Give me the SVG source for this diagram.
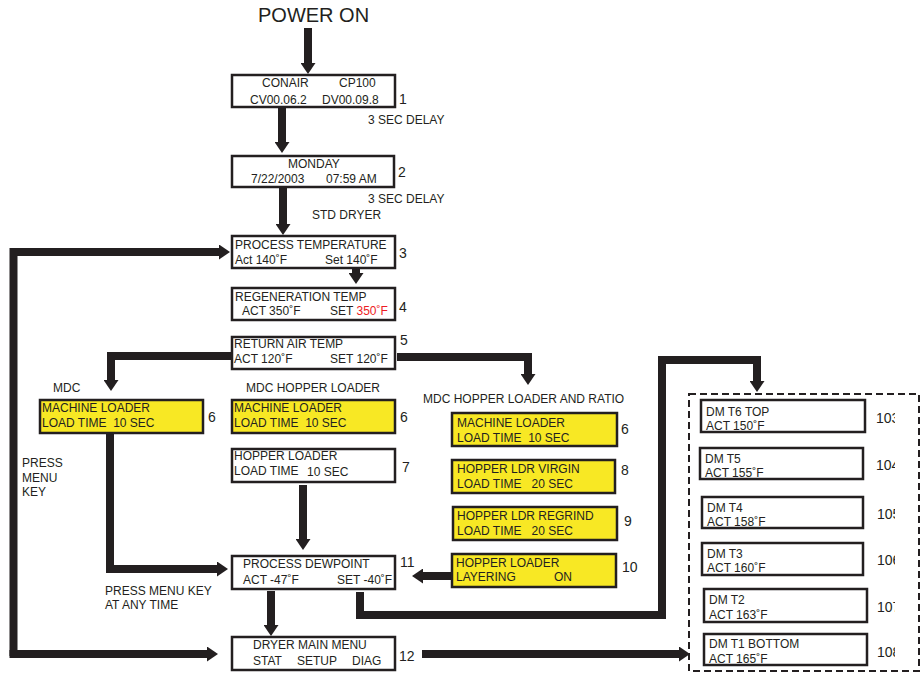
<svg xmlns="http://www.w3.org/2000/svg" width="922" height="673" viewBox="0 0 922 673">
<defs>
<style>
text{font-family:"Liberation Sans",Arial,sans-serif;font-size:12px;fill:#231f20}
.t{font-size:20px}
.num{font-size:14px}
.red{fill:#ed1c24}
.box{fill:#fff;stroke:#231f20;stroke-width:2.5}
.ybox{fill:#f8e824;stroke:#231f20;stroke-width:2.5}
.conn{fill:none;stroke:#231f20;stroke-width:8;marker-end:url(#ah)}
.dash{fill:none;stroke:#231f20;stroke-width:2;stroke-dasharray:7 4}
</style>
<marker id="ah" markerUnits="userSpaceOnUse" markerWidth="11" markerHeight="15" viewBox="0 0 11 15" refX="0" refY="7.5" orient="auto">
<path d="M0,0 L11,7.5 L0,15 Z" fill="#231f20"/>
</marker>
<clipPath id="numclip"><rect x="860" y="380" width="35" height="300"/></clipPath>
</defs>
<rect width="922" height="673" fill="#fff"/>

<text class="t" x="258" y="22">POWER ON</text>

<g id="connectors">
<path class="conn" d="M308,28 V63"/>
<path class="conn" d="M282,107 V142"/>
<path class="conn" d="M283,188 V224"/>
<path class="conn" d="M356,269 V273"/>
<path class="conn" d="M231,356 H111 V380"/>
<path class="conn" d="M397,357 H528 V374"/>
<path class="conn" d="M110,433 V569 H217"/>
<path class="conn" d="M303,485 V539"/>
<path class="conn" d="M451,576 H423"/>
<path class="conn" d="M271,591 V625"/>
<path class="conn" d="M360,592 V615 H662 V360 H757 V381"/>
<path class="conn" d="M422,654 H679"/>
<path class="conn" d="M13.5,656 V252 H219"/>
<path class="conn" d="M9.5,654 H207"/>
</g>

<g id="n1">
<rect class="box" x="232" y="75" width="163" height="32"/>
<text x="262" y="87">CONAIR</text><text x="339" y="87">CP100</text>
<text x="250" y="104">CV00.06.2</text><text x="322" y="104">DV00.09.8</text>
<text class="num" x="399" y="104">1</text>
</g>
<text x="368" y="124">3 SEC DELAY</text>

<g id="n2">
<rect class="box" x="232" y="156" width="162" height="31"/>
<text x="288" y="168">MONDAY</text>
<text x="251" y="183">7/22/2003</text><text x="326" y="183">07:59 AM</text>
<text class="num" x="398" y="177">2</text>
</g>
<text x="368" y="203">3 SEC DELAY</text>
<text x="312" y="219">STD DRYER</text>

<g id="n3">
<rect class="box" x="232" y="236" width="163" height="32"/>
<text x="235" y="249">PROCESS TEMPERATURE</text>
<text x="235" y="264">Act 140˚F</text><text x="325" y="264">Set 140˚F</text>
<text class="num" x="399" y="258">3</text>
</g>

<g id="n4">
<rect class="box" x="232" y="288" width="163" height="32"/>
<text x="235" y="301">REGENERATION TEMP</text>
<text x="242" y="315">ACT 350˚F</text><text x="330" y="315">SET <tspan class="red">350˚F</tspan></text>
<text class="num" x="399" y="312">4</text>
</g>

<g id="n5">
<rect class="box" x="232" y="337" width="163" height="32"/>
<text x="234" y="348">RETURN AIR TEMP</text>
<text x="234" y="363">ACT 120˚F</text><text x="330" y="363">SET 120˚F</text>
<text class="num" x="400" y="345">5</text>
</g>

<text x="53" y="392">MDC</text>
<text x="246" y="392">MDC HOPPER LOADER</text>
<text x="423" y="403">MDC HOPPER LOADER AND RATIO</text>

<g id="n6a">
<rect class="ybox" x="40" y="400" width="163" height="33"/>
<text x="42" y="412">MACHINE LOADER</text>
<text x="42" y="427" xml:space="preserve">LOAD TIME  10 SEC</text>
<text class="num" x="208" y="422">6</text>
</g>

<g id="n6b">
<rect class="ybox" x="232" y="400" width="163" height="33"/>
<text x="234" y="412">MACHINE LOADER</text>
<text x="234" y="427" xml:space="preserve">LOAD TIME  10 SEC</text>
<text class="num" x="400" y="422">6</text>
</g>

<g id="n7">
<rect class="box" x="232" y="449" width="163" height="33"/>
<text x="234" y="460">HOPPER LOADER</text>
<text x="234" y="475">LOAD TIME</text><text x="307" y="476">10 SEC</text>
<text class="num" x="402" y="472">7</text>
</g>

<g id="n6c">
<rect class="ybox" x="452" y="413" width="165" height="33"/>
<text x="457" y="427">MACHINE LOADER</text>
<text x="457" y="442" xml:space="preserve">LOAD TIME  10 SEC</text>
<text class="num" x="621" y="434">6</text>
</g>

<g id="n8">
<rect class="ybox" x="452" y="460" width="163" height="33"/>
<text x="457" y="473">HOPPER LDR VIRGIN</text>
<text x="457" y="488" xml:space="preserve">LOAD TIME   20 SEC</text>
<text class="num" x="621" y="475">8</text>
</g>

<g id="n9">
<rect class="ybox" x="453" y="507" width="164" height="33"/>
<text x="457" y="520">HOPPER LDR REGRIND</text>
<text x="457" y="535" xml:space="preserve">LOAD TIME   20 SEC</text>
<text class="num" x="624" y="526">9</text>
</g>

<g id="n10">
<rect class="ybox" x="452" y="554" width="164" height="33"/>
<text x="456" y="567">HOPPER LOADER</text>
<text x="456" y="581">LAYERING</text><text x="554" y="581">ON</text>
<text class="num" x="622" y="572">10</text>
</g>

<text x="22" y="467">PRESS</text>
<text x="22" y="482">MENU</text>
<text x="22" y="496">KEY</text>

<g id="n11">
<rect class="box" x="232" y="556" width="163" height="33"/>
<text x="243" y="568">PROCESS DEWPOINT</text>
<text x="243" y="584">ACT -47˚F</text><text x="337" y="584">SET -40˚F</text>
<text class="num" x="400" y="567">11</text>
</g>
<text x="105" y="595">PRESS MENU KEY</text>
<text x="105" y="609">AT ANY TIME</text>

<g id="n12">
<rect class="box" x="232" y="637" width="163" height="33"/>
<text x="253" y="649">DRYER MAIN MENU</text>
<text x="253" y="665">STAT</text><text x="297" y="665">SETUP</text><text x="352" y="665">DIAG</text>
<text class="num" x="399" y="661">12</text>
</g>

<g id="dm">
<rect class="dash" x="689" y="394" width="230" height="277"/>
<g id="n103">
<rect class="box" x="701" y="400" width="164" height="32"/>
<text x="706" y="416">DM T6 TOP</text><text x="706" y="430">ACT 150˚F</text>
<text class="num" x="876" y="423" clip-path="url(#numclip)">103</text>
</g>
<g id="n104">
<rect class="box" x="700" y="448" width="163" height="31"/>
<text x="705" y="463">DM T5</text><text x="705" y="477">ACT 155˚F</text>
<text class="num" x="876" y="470" clip-path="url(#numclip)">104</text>
</g>
<g id="n105">
<rect class="box" x="702" y="497" width="161" height="31"/>
<text x="707" y="512">DM T4</text><text x="707" y="526">ACT 158˚F</text>
<text class="num" x="877" y="519" clip-path="url(#numclip)">105</text>
</g>
<g id="n106">
<rect class="box" x="702" y="543" width="161" height="32"/>
<text x="707" y="558">DM T3</text><text x="707" y="572">ACT 160˚F</text>
<text class="num" x="877" y="565" clip-path="url(#numclip)">106</text>
</g>
<g id="n107">
<rect class="box" x="704" y="589" width="163" height="33"/>
<text x="709" y="604">DM T2</text><text x="709" y="619">ACT 163˚F</text>
<text class="num" x="877" y="612" clip-path="url(#numclip)">107</text>
</g>
<g id="n108">
<rect class="box" x="704" y="634" width="163" height="31"/>
<text x="709" y="648">DM T1 BOTTOM</text><text x="709" y="663">ACT 165˚F</text>
<text class="num" x="877" y="657" clip-path="url(#numclip)">108</text>
</g>
</g>
</svg>
